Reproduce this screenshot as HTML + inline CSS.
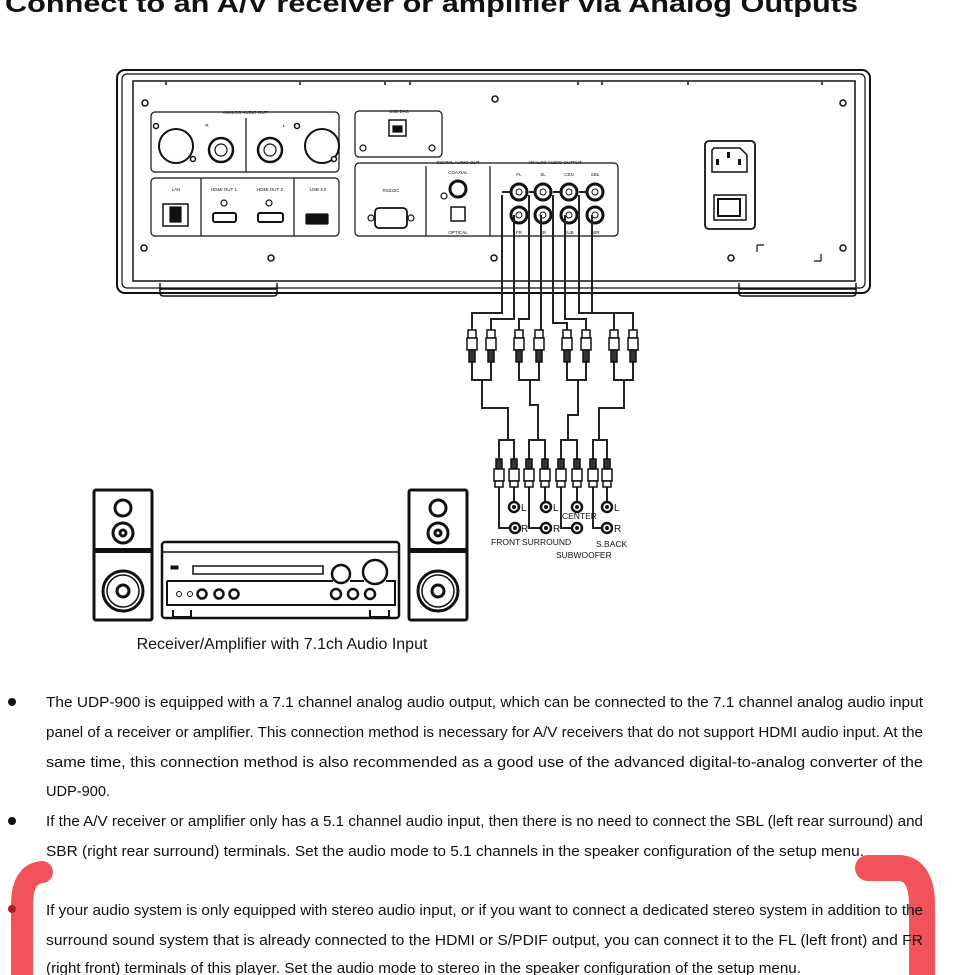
<!DOCTYPE html>
<html><head><meta charset="utf-8"><style>
html,body{margin:0;padding:0;background:#fff;}
svg{display:block;}
text{font-family:"Liberation Sans",Arial,sans-serif;fill:#111;}
</style></head><body>
<svg width="955" height="975" viewBox="0 0 955 975" xmlns="http://www.w3.org/2000/svg">
<defs>
<g id="pu"><rect x="-4" y="0" width="8" height="8" fill="#fff" stroke="#111" stroke-width="1.5"/><rect x="-5" y="8" width="10" height="12" fill="#fff" stroke="#111" stroke-width="1.5"/><rect x="-3" y="20" width="6" height="12" fill="#333" stroke="#111" stroke-width="1.5"/></g>
<g id="pd"><rect x="-3" y="0" width="6" height="10" fill="#333" stroke="#111" stroke-width="1.5"/><rect x="-5" y="10" width="10" height="12" fill="#fff" stroke="#111" stroke-width="1.5"/><rect x="-4" y="22" width="8" height="6" fill="#fff" stroke="#111" stroke-width="1.5"/></g>
<g id="spk" fill="none" stroke="#111">
<rect x="94" y="490" width="58" height="130" rx="2" stroke-width="3"/>
<rect x="94" y="548" width="58" height="5" fill="#111" stroke="none"/>
<circle cx="123" cy="508" r="8" stroke-width="3"/>
<circle cx="123" cy="533" r="10" stroke-width="3"/><circle cx="123" cy="533" r="3" stroke-width="3"/>
<circle cx="123" cy="591" r="20" stroke-width="3"/><circle cx="123" cy="591" r="16" stroke-width="1.5"/><circle cx="123" cy="591" r="6" stroke-width="3"/>
</g>
</defs>
<text x="5" y="12" font-size="25" font-weight="bold" textLength="853" lengthAdjust="spacingAndGlyphs">Connect to an A/V receiver or amplifier via Analog Outputs</text>

<!-- red marks (under text) -->
<g fill="none" stroke="#f0535a" stroke-linecap="round">
<path d="M42 872 Q22 874 22 905 V985" stroke-width="22"/>
<path d="M868 868 H900 Q922 870 922 905 V985" stroke-width="26"/>
</g>

<!-- device -->
<g fill="none" stroke="#111" stroke-width="2">
<rect x="117" y="70" width="753" height="223" rx="8"/>
<rect x="122" y="74" width="743" height="214" rx="5" stroke-width="1.2"/>
<rect x="133" y="81" width="722" height="200" stroke-width="1.5"/>
<path d="M160 283 V293 Q160 296 164 296 H273 Q277 296 277 293 V283 M160 289 H277" stroke-width="1.5"/>
<path d="M739 283 V293 Q739 296 743 296 H852 Q856 296 856 293 V283 M739 289 H856" stroke-width="1.5"/>
<path d="M166 82 V85 M300 82 V85 M385 82 V85 M410 82 V85 M578 82 V85 M602 82 V85 M688 82 V85 M822 82 V85" stroke-width="1.5"/>
</g>
<g fill="none" stroke="#111" stroke-width="1.2">
<rect x="151" y="112" width="188" height="60" rx="4"/>
<line x1="246" y1="118" x2="246" y2="172"/>
<rect x="151" y="178" width="188" height="58" rx="4"/>
<line x1="201" y1="178" x2="201" y2="236"/><line x1="294" y1="178" x2="294" y2="236"/>
<rect x="355" y="111" width="87" height="46" rx="4"/>
<rect x="355" y="163" width="263" height="73" rx="4"/>
<line x1="426" y1="166" x2="426" y2="236"/><line x1="490" y1="166" x2="490" y2="236"/>
<circle cx="176" cy="146" r="17" stroke-width="2"/><circle cx="322" cy="146" r="17" stroke-width="2"/>
<circle cx="221" cy="150" r="12" stroke-width="2.5"/><circle cx="221" cy="150" r="6"/>
<circle cx="270" cy="150" r="12" stroke-width="2.5"/><circle cx="270" cy="150" r="6"/>
<rect x="163" y="204" width="25" height="22" stroke-width="1.5"/>
<rect x="170" y="207" width="11" height="15" fill="#111"/>
<rect x="213" y="213" width="23" height="9" rx="2" stroke-width="2"/>
<rect x="258" y="213" width="25" height="9" rx="2" stroke-width="2"/>
<rect x="306" y="214" width="22" height="10" rx="1" fill="#111"/>
<circle cx="224" cy="203" r="3"/><circle cx="269" cy="203" r="3"/>
<rect x="389" y="120" width="17" height="16" stroke-width="1.5"/>
<rect x="393" y="126" width="9" height="6" fill="#111"/>
<circle cx="363" cy="148" r="3"/><circle cx="432" cy="148" r="3"/>
<rect x="375" y="208" width="32" height="20" rx="4" stroke-width="1.8"/>
<circle cx="371" cy="218" r="3"/><circle cx="411" cy="218" r="3"/>
<circle cx="458" cy="189" r="8" stroke-width="3"/>
<rect x="451" y="207" width="14" height="14" stroke-width="1.5"/>
<circle cx="444" cy="196" r="3"/>
<rect x="705" y="141" width="50" height="88" rx="4" stroke-width="1.8"/>
<path d="M714 148 H740 L747 155 V172 H712 V150 Z" stroke-width="1.5"/>
<rect x="714" y="195" width="32" height="25" stroke-width="1.5"/>
<rect x="718" y="199" width="22" height="17" stroke-width="2"/>
<path d="M757 245 V252 M757 245 H764 M821 254 V261 M814 261 H821"/>
</g>
<g fill="#111"><rect x="727" y="152" width="3" height="6"/><rect x="716" y="159" width="3" height="6"/><rect x="738" y="159" width="3" height="6"/></g>
<g fill="#fff" stroke="#111" stroke-width="1.5">
<circle cx="145" cy="103" r="3"/><circle cx="144" cy="248" r="3"/><circle cx="271" cy="258" r="3"/><circle cx="495" cy="99" r="3"/><circle cx="494" cy="258" r="3"/><circle cx="843" cy="103" r="3"/><circle cx="843" cy="248" r="3"/><circle cx="731" cy="258" r="3"/>
<circle cx="156" cy="126" r="2.5"/><circle cx="193" cy="159" r="2.5"/><circle cx="297" cy="126" r="2.5"/><circle cx="334" cy="159" r="2.5"/>
</g>
<g font-size="4.5" text-anchor="middle">
<text x="245" y="114">ANALOG AUDIO OUT</text><text x="207" y="127">R</text><text x="284" y="127">L</text>
<text x="176" y="191">LAN</text><text x="224" y="191">HDMI OUT 1</text><text x="270" y="191">HDMI OUT 2</text><text x="318" y="191">USB 3.0</text>
<text x="399" y="113">USB DAC</text><text x="391" y="192">RS232C</text>
<text x="458" y="164">DIGITAL AUDIO OUT</text><text x="458" y="174">COAXIAL</text><text x="458" y="234">OPTICAL</text>
<text x="555" y="164">ANALOG AUDIO OUTPUT</text>
<text x="519" y="176">FL</text><text x="543" y="176">SL</text><text x="569" y="176">CEN</text><text x="595" y="176">SBL</text>
<text x="519" y="234">FR</text><text x="543" y="234">SR</text><text x="569" y="234">SUB</text><text x="595" y="234">SBR</text>
</g>
<g fill="#fff" stroke="#111">
<g stroke-width="3">
<circle cx="519" cy="192" r="8"/><circle cx="543" cy="192" r="8"/><circle cx="569" cy="192" r="8"/><circle cx="595" cy="192" r="8"/>
<circle cx="519" cy="215" r="8"/><circle cx="543" cy="215" r="8"/><circle cx="569" cy="215" r="8"/><circle cx="595" cy="215" r="8"/>
</g>
<g stroke-width="1"><circle cx="519" cy="192" r="3"/><circle cx="543" cy="192" r="3"/><circle cx="569" cy="192" r="3"/><circle cx="595" cy="192" r="3"/>
<circle cx="519" cy="215" r="3"/><circle cx="543" cy="215" r="3"/><circle cx="569" cy="215" r="3"/><circle cx="595" cy="215" r="3"/></g>
</g>

<!-- cables -->
<g fill="none" stroke="#222" stroke-width="2">
<path d="M502 195 V313 H472 V330"/><path d="M514 215 V319 H491 V330"/>
<path d="M529 195 V319 H519 V330"/><path d="M541 215 V330 H539"/>
<path d="M553 195 V323 H567 V330"/><path d="M565 215 V319 H586 V330"/>
<path d="M579 195 V313 H614 V330"/><path d="M592 215 V313 H633 V330"/>
<path d="M502 192 H511 M529 192 H535 M553 192 H561 M579 192 H587"/>
<path d="M472 362 V380 H491 V362 M482 380 V408 H508 V440 M499 462 V440 H514 V462"/>
<path d="M519 362 V380 H539 V362 M530 380 V405 H538 V440 M529 462 V440 H545 V462"/>
<path d="M567 362 V380 H586 V362 M578 380 V415 H568 V440 M561 462 V440 H577 V462"/>
<path d="M614 362 V380 H633 V362 M624 380 V408 H599 V440 M593 462 V440 H607 V462"/>
<path d="M499 487 V528 H510 M514 487 V502"/>
<path d="M529 487 V528 H541 M545 487 V502"/>
<path d="M561 487 V528 H572 M577 487 V502"/>
<path d="M593 487 V528 H603 M607 487 V502"/>
</g>
<use href="#pu" x="472" y="330"/><use href="#pu" x="491" y="330"/><use href="#pu" x="519" y="330"/><use href="#pu" x="539" y="330"/>
<use href="#pu" x="567" y="330"/><use href="#pu" x="586" y="330"/><use href="#pu" x="614" y="330"/><use href="#pu" x="633" y="330"/>
<use href="#pd" x="499" y="459"/><use href="#pd" x="514" y="459"/><use href="#pd" x="529" y="459"/><use href="#pd" x="545" y="459"/>
<use href="#pd" x="561" y="459"/><use href="#pd" x="577" y="459"/><use href="#pd" x="593" y="459"/><use href="#pd" x="607" y="459"/>
<g fill="#fff" stroke="#111" stroke-width="2.5">
<circle cx="514" cy="507" r="5"/><circle cx="546" cy="507" r="5"/><circle cx="577" cy="507" r="5"/><circle cx="607" cy="507" r="5"/>
<circle cx="515" cy="528" r="5"/><circle cx="546" cy="528" r="5"/><circle cx="577" cy="528" r="5"/><circle cx="607" cy="528" r="5"/>
</g>
<g fill="#111"><circle cx="514" cy="507" r="2"/><circle cx="546" cy="507" r="2"/><circle cx="577" cy="507" r="2"/><circle cx="607" cy="507" r="2"/>
<circle cx="515" cy="528" r="2"/><circle cx="546" cy="528" r="2"/><circle cx="577" cy="528" r="2"/><circle cx="607" cy="528" r="2"/></g>
<g font-size="10"><text x="521" y="511">L</text><text x="553" y="511">L</text><text x="614" y="511">L</text>
<text x="521" y="532">R</text><text x="553" y="532">R</text><text x="614" y="532">R</text></g>
<g font-size="8.5"><text x="491" y="545">FRONT</text><text x="522" y="545">SURROUND</text><text x="562" y="519">CENTER</text><text x="596" y="547">S.BACK</text><text x="556" y="558">SUBWOOFER</text></g>

<!-- speakers & receiver -->
<use href="#spk"/>
<use href="#spk" x="315"/>
<g fill="none" stroke="#111">
<rect x="162" y="542" width="237" height="76" rx="3" stroke-width="2.5"/>
<path d="M162 552 H399" stroke-width="1.5"/>
<rect x="193" y="566" width="130" height="8" stroke-width="1.5"/>
<rect x="171" y="566" width="7" height="3" fill="#111"/>
<path d="M167 581 H333 M350 581 H364 M386 581 H395 V605 H167 V581" stroke-width="2"/>
<circle cx="341" cy="574" r="9" stroke-width="2.5"/><circle cx="375" cy="572" r="12" stroke-width="2.5"/>
<circle cx="179" cy="594" r="2.5"/><circle cx="190" cy="594" r="2.5"/>
<g stroke-width="2.5"><circle cx="202" cy="594" r="4.5"/><circle cx="219" cy="594" r="4.5"/><circle cx="234" cy="594" r="4.5"/>
<circle cx="336" cy="594" r="5"/><circle cx="353" cy="594" r="5"/><circle cx="370" cy="594" r="5"/></g>
<path d="M173 610 V617 H191 V610 M370 610 V617 H389 V610" stroke-width="2"/>
</g>
<text x="282" y="649" font-size="16" text-anchor="middle" fill="#222">Receiver/Amplifier with 7.1ch Audio Input</text>

<!-- paragraphs -->
<g font-size="15">
<circle cx="12" cy="702" r="4" fill="#111"/>
<text x="46" y="707" textLength="877" lengthAdjust="spacingAndGlyphs">The UDP-900 is equipped with a 7.1 channel analog audio output, which can be connected to the 7.1 channel analog audio input</text>
<text x="46" y="737" textLength="877" lengthAdjust="spacingAndGlyphs">panel of a receiver or amplifier. This connection method is necessary for A/V receivers that do not support HDMI audio input. At the</text>
<text x="46" y="767" textLength="877" lengthAdjust="spacingAndGlyphs">same time, this connection method is also recommended as a good use of the advanced digital-to-analog converter of the</text>
<text x="46" y="796" textLength="64" lengthAdjust="spacingAndGlyphs">UDP-900.</text>
<circle cx="12" cy="821" r="4" fill="#111"/>
<text x="46" y="826" textLength="877" lengthAdjust="spacingAndGlyphs">If the A/V receiver or amplifier only has a 5.1 channel audio input, then there is no need to connect the SBL (left rear surround) and</text>
<text x="46" y="856" textLength="818" lengthAdjust="spacingAndGlyphs">SBR (right rear surround) terminals. Set the audio mode to 5.1 channels in the speaker configuration of the setup menu.</text>
<text x="46" y="915" textLength="877" lengthAdjust="spacingAndGlyphs">If your audio system is only equipped with stereo audio input, or if you want to connect a dedicated stereo system in addition to the</text>
<text x="46" y="945" textLength="877" lengthAdjust="spacingAndGlyphs">surround sound system that is already connected to the HDMI or S/PDIF output, you can connect it to the FL (left front) and FR</text>
<text x="46" y="973" textLength="755" lengthAdjust="spacingAndGlyphs">(right front) terminals of this player. Set the audio mode to stereo in the speaker configuration of the setup menu.</text>
</g>
<circle cx="12" cy="909" r="4" fill="#b01c22"/>
</svg>
</body></html>
